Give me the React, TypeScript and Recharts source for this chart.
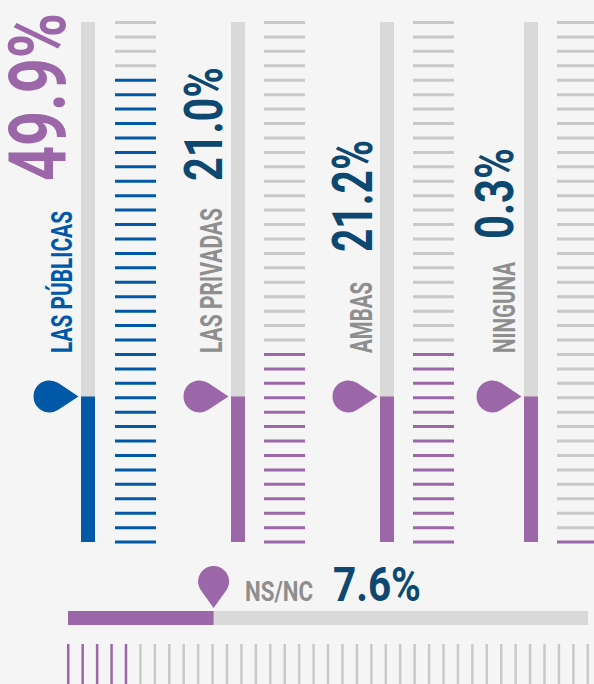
import React from 'react';
import { BarChart, Bar, XAxis, YAxis, Cell, ReferenceDot } from 'recharts';

// ---------------- data ----------------
const categories = ['LAS PÚBLICAS', 'LAS PRIVADAS', 'AMBAS', 'NINGUNA'];
const percentages = [49.9, 21.0, 21.2, 0.3];
const gaugeLevels = [28, 28, 28, 28];
const highlightedTicks = [33, 14, 14, 1];
const tickCount = 37;

const nsncCategory = 'NS/NC';
const nsncPercentage = 7.6;
const nsncLevel = 28;
const nsncHighlightedTicks = 5;

// ---------------- styles ----------------
const BG = '#f5f5f5';
const BLUE = '#0058a7';
const PURPLE = '#9b67a8';
const NAVY = '#0d4870';
const TRACK = '#d9d9d9';
const TICK_GRAY = '#c9c9c9';
const LABEL_GRAY = '#8e8e8e';
const FONT = 'Roboto, "Liberation Sans", sans-serif';

const columnLayout = [
  { gaugeX: 81, tickX: 115, accent: BLUE, labelColor: BLUE, valueColor: PURPLE,
    value: { bx: 65, y: 181, fs: 79, len: 168 }, label: { bx: 72, y: 353, fs: 30, len: 142 } },
  { gaugeX: 231, tickX: 264, accent: PURPLE, labelColor: LABEL_GRAY, valueColor: NAVY,
    value: { bx: 222, y: 181, fs: 54, len: 114 }, label: { bx: 222, y: 353, fs: 31, len: 145 } },
  { gaugeX: 380, tickX: 413, accent: PURPLE, labelColor: LABEL_GRAY, valueColor: NAVY,
    value: { bx: 372, y: 252, fs: 55, len: 112 }, label: { bx: 372, y: 353, fs: 31, len: 71 } },
  { gaugeX: 524, tickX: 557, accent: PURPLE, labelColor: LABEL_GRAY, valueColor: NAVY,
    value: { bx: 513, y: 239, fs: 53, len: 91 }, label: { bx: 515, y: 353, fs: 31, len: 91 } },
];

const GAUGE_TOP = 22;
const GAUGE_H = 520;
const GAUGE_W = 14;
const PIN_PAD = 51;

const tickRows = Array.from({ length: tickCount }, (_, i) => ({ i, v: 1 }));

function tearPath(tipX: number, tipY: number, ux: number, uy: number, r: number, d: number) {
  const cx = tipX - ux * d;
  const cy = tipY - uy * d;
  const a = Math.acos(r / d);
  const px = -uy;
  const py = ux;
  const t1x = cx + r * (Math.cos(a) * ux + Math.sin(a) * px);
  const t1y = cy + r * (Math.cos(a) * uy + Math.sin(a) * py);
  const t2x = cx + r * (Math.cos(a) * ux - Math.sin(a) * px);
  const t2y = cy + r * (Math.cos(a) * uy - Math.sin(a) * py);
  return `M${tipX},${tipY} L${t1x},${t1y} A${r},${r} 0 1 1 ${t2x},${t2y} Z`;
}

function VerticalGauge({ name, level, color, left }: any) {
  const data = [{ name, level }];
  return (
    <div style={{ position: 'absolute', left: left - PIN_PAD, top: GAUGE_TOP }}>
      <BarChart width={GAUGE_W + PIN_PAD} height={GAUGE_H} data={data}
        margin={{ top: 0, right: 0, bottom: 0, left: PIN_PAD }} barCategoryGap={0}>
        <XAxis dataKey="name" type="category" hide />
        <YAxis type="number" domain={[0, 100]} hide />
        <Bar dataKey="level" fill={color} background={{ fill: TRACK }} isAnimationActive={false} />
        <ReferenceDot x={name} y={level} r={0} ifOverflow="visible"
          shape={(p: any) => (
            <path d={tearPath(p.cx - GAUGE_W / 2 - 2.5, p.cy, 1, 0, 16, 29)} fill={color} />
          )} />
      </BarChart>
    </div>
  );
}

function TickColumn({ highlighted, color, left }: any) {
  return (
    <div style={{ position: 'absolute', left, top: 15 }}>
      <BarChart layout="vertical" width={41} height={534} data={tickRows}
        margin={{ top: 0, right: 0, bottom: 0, left: 0 }}>
        <XAxis type="number" domain={[0, 1]} hide />
        <YAxis type="category" dataKey="i" hide />
        <Bar dataKey="v" barSize={3} isAnimationActive={false}>
          {tickRows.map((r) => (
            <Cell key={r.i} fill={r.i >= tickCount - highlighted ? color : TICK_GRAY} />
          ))}
        </Bar>
      </BarChart>
    </div>
  );
}

function BottomGauge() {
  const data = [{ name: nsncCategory, level: nsncLevel }];
  return (
    <div style={{ position: 'absolute', left: 68, top: 563 }}>
      <BarChart layout="vertical" width={520} height={62} data={data}
        margin={{ top: 48, right: 0, bottom: 0, left: 0 }} barCategoryGap={0}>
        <XAxis type="number" domain={[0, 100]} hide />
        <YAxis type="category" dataKey="name" hide />
        <Bar dataKey="level" fill={PURPLE} background={{ fill: TRACK }} isAnimationActive={false} />
        <ReferenceDot x={nsncLevel} y={nsncCategory} r={0} ifOverflow="visible"
          shape={(p: any) => (
            <path d={tearPath(p.cx, p.cy - 7 - 3, 0, 1, 15.5, 26.5)} fill={PURPLE} />
          )} />
      </BarChart>
    </div>
  );
}

function BottomTicks() {
  return (
    <div style={{ position: 'absolute', left: 61, top: 644 }}>
      <BarChart width={534} height={50} data={tickRows}
        margin={{ top: 0, right: 0, bottom: 0, left: 0 }}>
        <XAxis type="category" dataKey="i" hide />
        <YAxis type="number" domain={[0, 1]} hide />
        <Bar dataKey="v" barSize={2.5} isAnimationActive={false}>
          {tickRows.map((r) => (
            <Cell key={r.i} fill={r.i < nsncHighlightedTicks ? PURPLE : TICK_GRAY} />
          ))}
        </Bar>
      </BarChart>
    </div>
  );
}

function VText({ bx, y, fs, len, color, children, weight = 700 }: any) {
  return (
    <text transform={`translate(${bx},${y}) rotate(-90)`} x={0} y={0} fontSize={fs}
      fontFamily={FONT} fontWeight={weight} fill={color}
      textLength={len} lengthAdjust="spacingAndGlyphs">{children}</text>
  );
}

export default function App() {
  return (
    <div style={{ position: 'absolute', left: 0, top: 0, width: 594, height: 684, background: BG, overflow: 'hidden' }}>
      <style>{'.recharts-surface{overflow:visible}.recharts-wrapper svg{outline:none}'}</style>
      {categories.map((c, k) => (
        <React.Fragment key={c}>
          <VerticalGauge name={c} level={gaugeLevels[k]} color={columnLayout[k].accent} left={columnLayout[k].gaugeX} />
          <TickColumn highlighted={highlightedTicks[k]} color={columnLayout[k].accent} left={columnLayout[k].tickX} />
        </React.Fragment>
      ))}
      <BottomGauge />
      <BottomTicks />
      <svg width={594} height={684} style={{ position: 'absolute', left: 0, top: 0, pointerEvents: 'none' }}>
        {categories.map((c, k) => {
          const L = columnLayout[k];
          return (
            <g key={c}>
              <VText {...L.value} color={L.valueColor}>{`${percentages[k].toFixed(1)}%`}</VText>
              <VText {...L.label} color={L.labelColor}>{c}</VText>
            </g>
          );
        })}
        <text x={245} y={601} fontSize={27} fontFamily={FONT} fontWeight={700} fill={LABEL_GRAY}
          textLength={68} lengthAdjust="spacingAndGlyphs">{nsncCategory}</text>
        <text x={333} y={601} fontSize={49} fontFamily={FONT} fontWeight={700} fill={NAVY}
          textLength={88} lengthAdjust="spacingAndGlyphs">{`${nsncPercentage.toFixed(1)}%`}</text>
      </svg>
    </div>
  );
}
